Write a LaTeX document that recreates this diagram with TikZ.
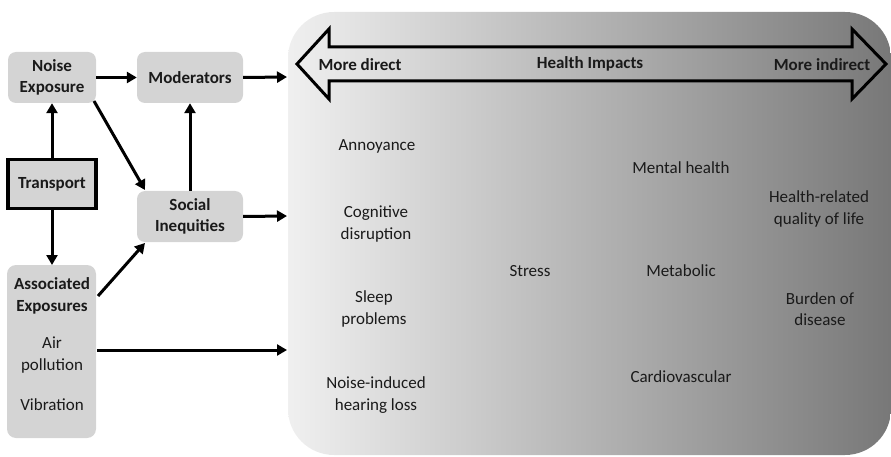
\documentclass[tikz,border=0pt]{standalone}
\usepackage{fontspec}
\setmainfont{Carlito}
\usetikzlibrary{arrows.meta}
\definecolor{boxgray}{HTML}{D4D4D4}
\definecolor{txt}{HTML}{1A1A1A}
\begin{document}
\begin{tikzpicture}[x=1pt,y=-1pt,
  font=\fontsize{17}{21.5}\selectfont, text=txt,
  gbox/.style={fill=boxgray, rounded corners=8pt, draw=none, font=\fontsize{17}{21.5}\selectfont\bfseries, align=center, inner sep=0pt},
  flow/.style={line width=3pt, -{Triangle[length=10pt,width=11pt]}},
  lab/.style={align=center, inner sep=0pt},
  blab/.style={lab, font=\fontsize{17}{21.5}\selectfont\bfseries}
]
\useasboundingbox (0,0) rectangle (891,457);
% panel
\shade[left color=white!94!black, right color=black!53, rounded corners=46pt]
  (288,12) rectangle (891,455);
% double arrow
\draw[line width=3pt, line join=miter]
  (297,64) -- (329,29) -- (329,47) -- (852,47) -- (852,29) -- (886,64)
  -- (852,99) -- (852,81) -- (329,81) -- (329,99) -- cycle;
\node[blab] (md) at (360,65) {More direct};
\node[blab] (hi) at (590,64) {Health Impacts};
\node[blab] (mi) at (822,65) {More indirect};
% panel texts
\node[lab] (ann) at (377,146) {Annoyance};
\node[lab] (cog) at (376,224) {Cognitive\\disruption};
\node[lab] (slp) at (374,309) {Sleep\\problems};
\node[lab] (nih) at (376,395) {Noise-induced\\hearing loss};
\node[lab] (str) at (530,271) {Stress};
\node[lab] (mh) at (681,168) {Mental health};
\node[lab] (met) at (681,271) {Metabolic};
\node[lab] (cv) at (681,377) {Cardiovascular};
\node[lab] (hrq) at (819,209) {Health-related\\quality of life};
\node[lab] (bod) at (820,309) {Burden of\\disease};
% left boxes
\node[gbox, minimum width=88pt, minimum height=51pt] (noise) at (52,77.5) {Noise\\Exposure};
\node[gbox, minimum width=106pt, minimum height=51pt] (mod) at (190,77.5) {Moderators};
\node[fill=boxgray, draw=black, line width=3.5pt, minimum width=88pt, minimum height=49pt, inner sep=0pt, font=\fontsize{17}{21.5}\selectfont\bfseries] (trans) at (52,184) {Transport};
\node[gbox, minimum width=106pt, minimum height=51pt] (soc) at (190,216.5) {Social\\Inequities};
\path[fill=boxgray, rounded corners=9pt] (7,265) rectangle (96,438);
\node[blab] (assoc) at (52,296) {Associated\\Exposures};
\node[lab] (air) at (52,355) {Air\\pollution};
\node[lab] (vib) at (52,405) {Vibration};
\coordinate (assocTop) at (52,265);
\coordinate (assocR1) at (98,296);
\coordinate (assocR2) at (97,350);
\coordinate (p1) at (287,77);
\coordinate (p2) at (287,216);
\coordinate (p3) at (287,350);
% connectors
\draw[flow] (trans.north) -- (noise.south);
\draw[flow] (trans.south) -- (assocTop);
\draw[flow] (noise.east) -- (mod.west);
\draw[flow] (mod.east) -- (p1);
\draw[flow] (94,101) -- (145,190);
\draw[flow] (soc.north) -- (mod.south);
\draw[flow] (soc.east) -- (p2);
\draw[flow] (assocR1) -- (145,243);
\draw[flow] (assocR2) -- (p3);
\end{tikzpicture}
\end{document}
